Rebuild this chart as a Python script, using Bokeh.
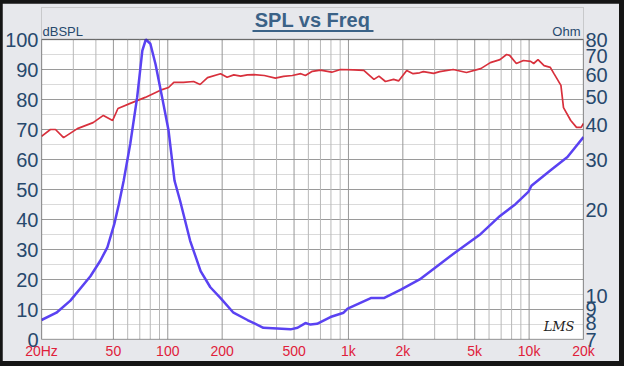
from bokeh.plotting import figure
from bokeh.models import (Range1d, LogAxis, LogScale, FixedTicker, Label,
                          BoxAnnotation, Grid)
from bokeh.embed import file_html
from bokeh.resources import INLINE

# ---- data ----
spl_freq = [20, 22.4, 23.9, 26.5, 31.6, 38.6, 44, 49.5, 53, 62,
            75, 93, 101, 108, 122, 139, 151, 166, 196, 213,
            232, 253, 276, 300, 342, 394, 437, 489, 545, 578,
            631, 700, 808, 904, 1070, 1216, 1297, 1384, 1475, 1602,
            1778, 1894, 2101, 2279, 2476, 2600, 2960, 3200, 3800, 4500,
            5400, 6100, 6900, 7500, 7800, 8500, 9300, 10200, 10600, 11200,
            12100, 13100, 13700, 15000, 15500, 17000, 18300, 19400, 20000]
spl_db = [67.7, 70.0, 70.0, 67.3, 70.3, 72.3, 74.7, 73.0, 77.0, 78.7,
          80.7, 83.3, 84.0, 85.7, 85.7, 86.0, 85.0, 87.3, 88.6, 87.4,
          88.2, 87.8, 88.2, 88.3, 88.0, 87.1, 87.7, 88.0, 88.6, 88.0,
          89.4, 89.8, 89.1, 90.0, 89.9, 89.7, 88.2, 86.7, 87.8, 86.0,
          86.7, 86.2, 89.7, 88.6, 88.9, 89.3, 88.7, 89.3, 90.0, 89.0,
          90.3, 92.3, 93.3, 95.0, 94.7, 92.0, 93.0, 92.7, 92.0, 93.3,
          91.3, 90.7, 88.7, 84.7, 77.3, 73.0, 70.7, 70.7, 72.0]

imp_freq = [20, 24.2, 28.9, 37.3, 42.4, 46.3, 50.6, 53.6, 57, 62,
            67.7, 72.3, 75.6, 80.1, 85.5, 93, 101, 109, 117, 133,
            152, 172, 196, 231, 276, 338, 404, 478, 523, 578,
            616, 670, 795, 940, 990, 1330, 1570, 1950, 2478, 3200,
            3900, 5400, 6900, 8400, 9900, 10300, 13100, 16300, 20000]
imp_ohm = [8.2, 8.7, 9.6, 11.7, 13.3, 14.8, 17.9, 21.0, 25.4, 34.3,
           50.1, 73.1, 80.0, 77.3, 65.6, 50.1, 38.2, 25.4, 21.6, 15.6,
           12.2, 10.7, 9.8, 8.7, 8.2, 7.7, 7.65, 7.6, 7.7, 8.0,
           7.9, 7.95, 8.4, 8.7, 9.0, 9.8, 9.8, 10.5, 11.4, 12.9,
           14.2, 16.5, 19.1, 21.0, 23.2, 24.4, 27.6, 30.8, 36.2]

x_ticks = [20, 50, 100, 200, 500, 1000, 2000, 5000, 10000, 20000]
x_tick_labels = ["20Hz", "50", "100", "200", "500", "1k", "2k", "5k", "10k", "20k"]
db_ticks = [0, 10, 20, 30, 40, 50, 60, 70, 80, 90, 100]
db_minor = [5, 15, 25, 35, 45, 55, 65, 75, 85, 95]
ohm_ticks = [7, 8, 9, 10, 20, 30, 40, 50, 60, 70, 80]
x_grid = [m * d for d in (10, 100, 1000, 10000) for m in range(1, 10)
          if 20 <= m * d <= 20000]
x_grid_dark = [20, 50, 100, 200, 500, 1000, 2000, 5000, 10000, 20000]

DB_MIN, DB_MAX = 0, 100
OHM_MIN, OHM_MAX = 7, 80
F_MIN, F_MAX = 20, 20000

FONT = "Liberation Sans"
AXIS_BLUE = "#27496d"
TITLE_BLUE = "#3b6287"
PANEL = "#e7e8ec"

# layout: the chart box is 300px tall; the frame also holds the header above it
W, H = 617, 358
B_LEFT, B_RIGHT, B_TOP, B_BOTTOM = 39, 36, 4, 22
CHART_H = 300
FRAME_H = H - B_TOP - B_BOTTOM
k = FRAME_H / CHART_H

p = figure(width=W, height=H, x_axis_type="log",
           x_range=Range1d(F_MIN, F_MAX),
           y_range=Range1d(DB_MIN, DB_MIN + (DB_MAX - DB_MIN) * k),
           output_backend="svg", toolbar_location=None,
           min_border_left=B_LEFT, min_border_right=B_RIGHT,
           min_border_top=B_TOP, min_border_bottom=B_BOTTOM,
           background_fill_color="white", border_fill_color=PANEL,
           outline_line_color=None)

p.extra_y_ranges = {"ohm": Range1d(OHM_MIN, OHM_MIN * (OHM_MAX / OHM_MIN) ** k)}
p.extra_y_scales = {"ohm": LogScale()}

# header background (above the chart box)
p.add_layout(BoxAnnotation(bottom=DB_MAX, fill_color=PANEL, fill_alpha=1.0,
                           line_color=None, level="underlay"))

# bottom axis
xa = p.xaxis[0]
xa.ticker = FixedTicker(ticks=x_ticks)
xa.major_label_overrides = {t: l for t, l in zip(x_ticks, x_tick_labels)}
xa.major_label_text_color = "#e0203a"
xa.major_label_text_font = FONT
xa.major_label_text_font_size = "14px"
xa.major_label_standoff = 3

# left axis
ya = p.yaxis[0]
ya.ticker = FixedTicker(ticks=db_ticks)
ya.major_label_text_color = AXIS_BLUE
ya.major_label_text_font = FONT
ya.major_label_text_font_size = "20px"
ya.major_label_standoff = 3

# right axis (impedance, log)
ra = LogAxis(y_range_name="ohm", ticker=FixedTicker(ticks=ohm_ticks))
ra.major_label_overrides = {t: str(t) for t in ohm_ticks}
ra.major_label_text_color = AXIS_BLUE
ra.major_label_text_font = FONT
ra.major_label_text_font_size = "20px"
ra.major_label_standoff = 2
p.add_layout(ra, "right")

for ax in (xa, ya, ra):
    ax.axis_line_color = None
    ax.major_tick_line_color = None
    ax.minor_tick_line_color = None
    ax.major_tick_out = 0
    ax.major_tick_in = 0
    ax.minor_tick_out = 0

# grids
p.xgrid.visible = False
p.ygrid.ticker = FixedTicker(ticks=db_minor)
p.ygrid.grid_line_color = "#dadada"
p.add_layout(Grid(dimension=1, ticker=FixedTicker(ticks=db_ticks),
                  grid_line_color="#9a9a9a"))
light = [v for v in x_grid if v not in x_grid_dark]
p.segment(x0=light, y0=[DB_MIN] * len(light), x1=light, y1=[DB_MAX] * len(light),
          line_color="#b8b8b8", line_width=1)
p.segment(x0=x_grid_dark, y0=[DB_MIN] * len(x_grid_dark), x1=x_grid_dark,
          y1=[DB_MAX] * len(x_grid_dark), line_color="#979797", line_width=1)

# curves
p.line(spl_freq, spl_db, line_color="#d8303c", line_width=1.7)
p.line(imp_freq, imp_ohm, y_range_name="ohm", line_color="#5a42f2",
       line_width=2.5)

# chart box outline
p.add_layout(BoxAnnotation(left=F_MIN, right=F_MAX, bottom=DB_MIN, top=DB_MAX,
                           fill_color=None, fill_alpha=0, line_color="black",
                           line_width=1.5, level="overlay"))

# texts (screen units: from the frame's bottom-left)
p.add_layout(Label(x=271, y=320, x_units="screen", y_units="screen",
                   text="SPL vs Freq", text_font=FONT, text_font_size="20px",
                   text_font_style="bold", text_color=TITLE_BLUE,
                   text_align="center", text_baseline="middle"))
p.add_layout(BoxAnnotation(left=211, right=332, bottom=307.5, top=309.5,
                           left_units="screen", right_units="screen",
                           bottom_units="screen", top_units="screen",
                           fill_color=TITLE_BLUE, fill_alpha=1.0,
                           line_color=None, level="overlay"))
p.add_layout(Label(x=1, y=308, x_units="screen", y_units="screen",
                   text="dBSPL", text_font=FONT, text_font_size="13px",
                   text_color=AXIS_BLUE, text_baseline="middle"))
p.add_layout(Label(x=539, y=308, x_units="screen", y_units="screen",
                   text="Ohm", text_font=FONT, text_font_size="13px",
                   text_color=AXIS_BLUE, text_align="right",
                   text_baseline="middle"))
p.add_layout(Label(x=533, y=13, x_units="screen", y_units="screen",
                   text="LMS", text_font="DejaVu Serif", text_font_size="13px",
                   text_font_style="italic", text_color="#222222",
                   text_align="right", text_baseline="middle"))

html = file_html(p, INLINE).replace(
    "<body>", '<body style="background-color:#151515;padding:3px 0 0 2px;">')
open("out.html", "w").write(html)
